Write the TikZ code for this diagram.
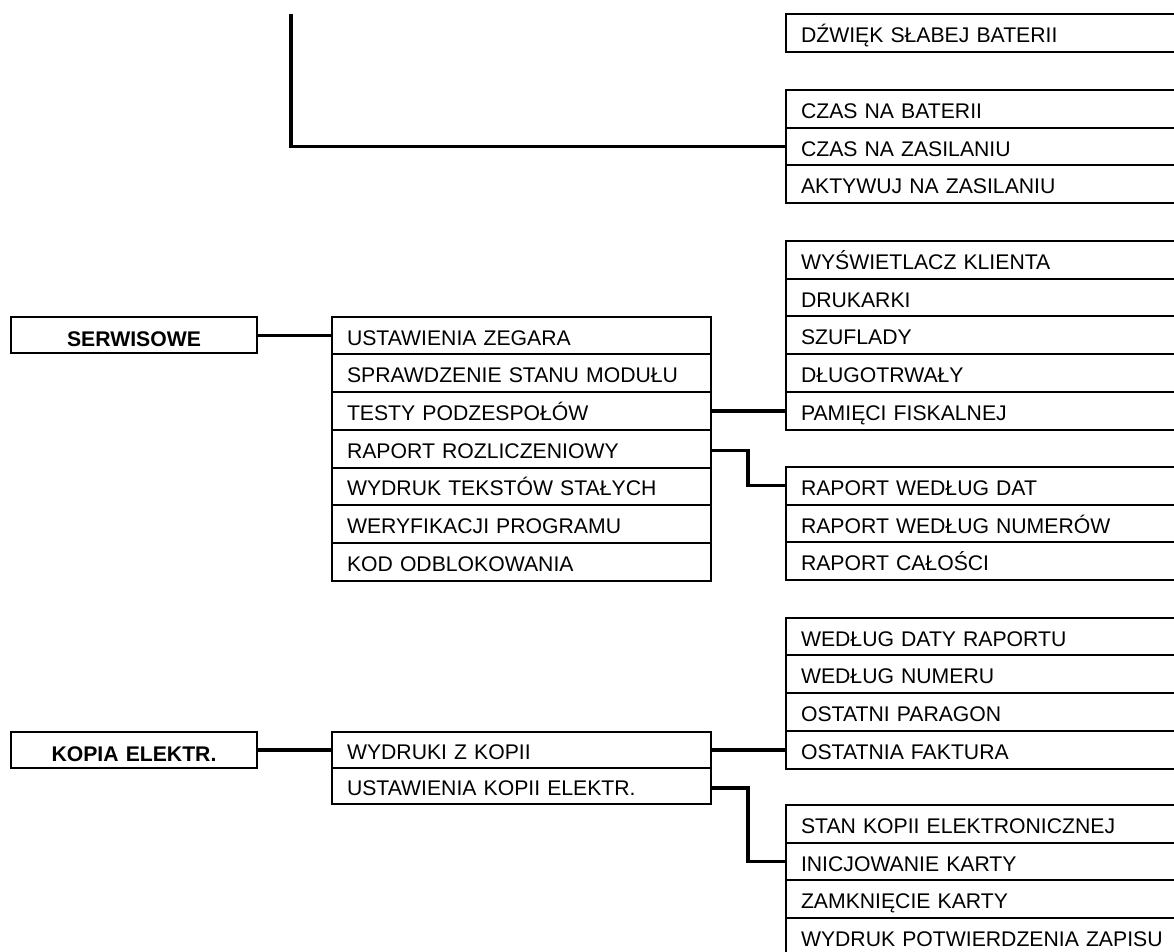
\documentclass[tikz,border=0pt]{standalone}
\usepackage{fontspec}
\setmainfont{Liberation Sans}
\begin{document}
\begin{tikzpicture}[x=0.75pt,y=-0.75pt,
  rowbase/.style={draw, line width=1.5pt, anchor=north west, outer sep=0pt,
    minimum height=28.3pt, inner xsep=11.25pt, inner ysep=0pt, align=left,
    text height=14.3pt, text depth=0pt, font=\fontsize{15.9pt}{19pt}\selectfont},
  midrow/.style={rowbase, text width=261.75pt},
  rightrow/.style={rowbase, text width=352.5pt},
  headbox/.style={draw, line width=1.5pt, anchor=north west, outer sep=0pt,
    minimum height=27.5pt, inner xsep=0pt, inner ysep=0pt, align=center,
    text width=184.5pt, text height=17pt, text depth=0pt,
    font=\fontsize{15.9pt}{19pt}\selectfont\bfseries},
  link/.style={line width=2.3pt}]
\useasboundingbox (0,0) rectangle (1174,952);
\clip (0,0) rectangle (1174,952);

% top group (right column)
\node[rightrow] (dzw) at (786,14.5) {DŹWIĘK SŁABEJ BATERII};
\node[rightrow] (czb) at (786,90) {CZAS NA BATERII};
\node[rightrow] (czz) at (786,127.7) {CZAS NA ZASILANIU};
\node[rightrow] (akt) at (786,165.4) {AKTYWUJ NA ZASILANIU};
\coordinate (topend) at (291,14);
\draw[link] (topend) |- (czz.west);

% SERWISOWE
\node[headbox] (serw) at (11,316.7) {SERWISOWE};
\node[midrow] (ustz) at (332,316.7) {USTAWIENIA ZEGARA};
\node[midrow] (spr) at (332,354.4) {SPRAWDZENIE STANU MODUŁU};
\node[midrow] (test) at (332,392.1) {TESTY PODZESPOŁÓW};
\node[midrow] (rozl) at (332,429.8) {RAPORT ROZLICZENIOWY};
\node[midrow] (wtek) at (332,467.5) {WYDRUK TEKSTÓW STAŁYCH};
\node[midrow] (wer) at (332,505.2) {WERYFIKACJI PROGRAMU};
\node[midrow] (kod) at (332,542.9) {KOD ODBLOKOWANIA};

\node[rightrow] (wysw) at (786,241) {WYŚWIETLACZ KLIENTA};
\node[rightrow] (druk) at (786,278.7) {DRUKARKI};
\node[rightrow] (szuf) at (786,316.4) {SZUFLADY};
\node[rightrow] (dlug) at (786,354.1) {DŁUGOTRWAŁY};
\node[rightrow] (pam) at (786,391.8) {PAMIĘCI FISKALNEJ};

\node[rightrow] (rdat) at (786,467) {RAPORT WEDŁUG DAT};
\node[rightrow] (rnum) at (786,504.7) {RAPORT WEDŁUG NUMERÓW};
\node[rightrow] (rcal) at (786,542.4) {RAPORT CAŁOŚCI};

\draw[link] (serw.east) -- (serw.east -| ustz.west);
\draw[link] (test.east) -- (test.east -| pam.west);
\draw[link] (rozl.east) ++(0,2) -- ++(37,0) |- (rdat.west);

% KOPIA ELEKTR.
\node[headbox, minimum height=27pt, text height=16.5pt] (kop) at (11,732) {KOPIA ELEKTR.};
\node[midrow, minimum height=27pt] (wkop) at (332,732) {WYDRUKI Z KOPII};
\node[midrow, minimum height=27pt] (ukop) at (332,768) {USTAWIENIA KOPII ELEKTR.};

\node[rightrow] (wdat) at (786,617.7) {WEDŁUG DATY RAPORTU};
\node[rightrow] (wnum) at (786,655.4) {WEDŁUG NUMERU};
\node[rightrow] (opar) at (786,693.1) {OSTATNI PARAGON};
\node[rightrow] (ofak) at (786,730.8) {OSTATNIA FAKTURA};

\node[rightrow] (stan) at (786,805) {STAN KOPII ELEKTRONICZNEJ};
\node[rightrow] (inic) at (786,842.7) {INICJOWANIE KARTY};
\node[rightrow] (zamk) at (786,880.4) {ZAMKNIĘCIE KARTY};
\node[rightrow] (wpot) at (786,918.1) {WYDRUK POTWIERDZENIA ZAPISU};

\draw[link] (kop.east) -- (kop.east -| wkop.west);
\draw[link] (wkop.east) -- (wkop.east -| ofak.west);
\draw[link] (ukop.east) ++(0,2) -- ++(37,0) |- (inic.west);
\end{tikzpicture}
\end{document}
